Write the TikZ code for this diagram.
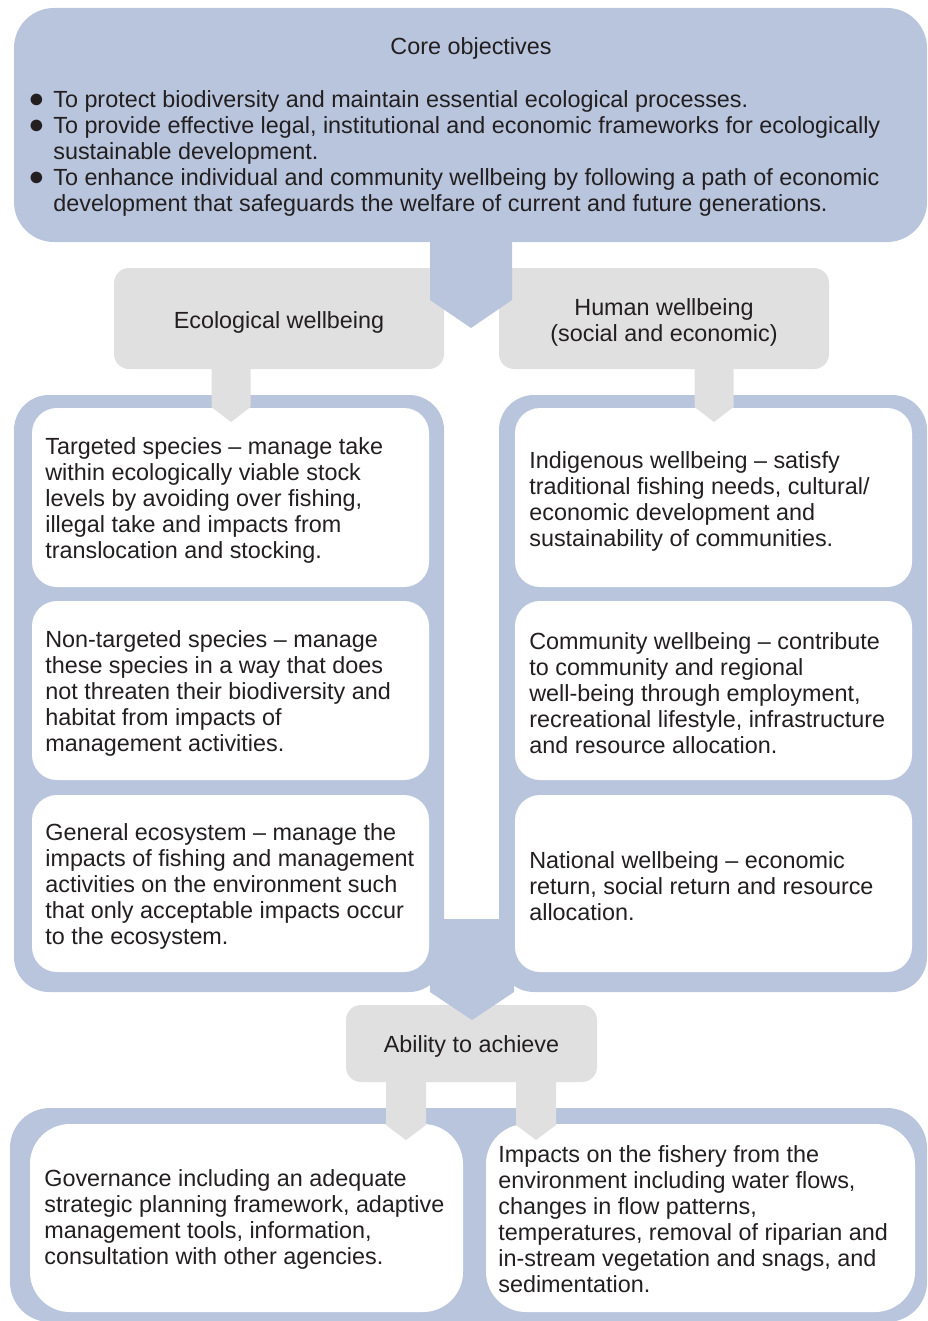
\documentclass[tikz,border=0pt]{standalone}
\usepackage{fontspec}
\setmainfont{Liberation Sans}
\usepackage{tikz}
\usetikzlibrary{fit}
\usetikzlibrary{calc}
\definecolor{frameblue}{HTML}{B8C5DD}
\definecolor{headgrey}{HTML}{E0E0E0}
\definecolor{ink}{HTML}{231F20}
\newcommand\bodyfont{\fontsize{13.3pt}{14.8pt}\selectfont}
\newcommand\dotmark{\scalebox{1.15}{●}}
% block arrow: colour, half width, head length, foot, tip
\newcommand\blockarrow[5]{\fill[#1] ($(#4)+(-#2,-4)$) -- ($(#5)+(-#2,-#3)$) -- (#5) -- ($(#5)+(#2,-#3)$) -- ($(#4)+(#2,-4)$) -- cycle;}

\begin{document}
\begin{tikzpicture}[x=0.02cm, y=-0.02cm,
  corebox/.style={fill=frameblue, rounded corners=0.8cm, inner sep=0pt},
  framebox/.style={fill=frameblue, rounded corners=0.7cm, inner sep=0pt},
  whitebox/.style={fill=white, rounded corners=0.5cm, inner sep=0pt},
  lowbox/.style={fill=white, rounded corners=0.8cm, inner sep=0pt},
  greybox/.style={fill=headgrey, rounded corners=0.3cm, inner sep=0pt},
  bodytext/.style={anchor=west, align=left, inner sep=0pt, text=ink, font=\bodyfont},
  headtext/.style={align=center, inner sep=0pt, text=ink, font=\bodyfont}]
\useasboundingbox (0,0) rectangle (927,1321);
\clip (0,0) rectangle (927,1321);

% core objectives
\node[corebox, fit={(14,8) (927,242)}] (core) {};
\node[greybox, fit={(114,268) (444,369)}] (eco) {};
\node[greybox, fit={(499,268) (829,369)}] (human) {};
\coordinate (coretip) at (471,328);
\blockarrow{frameblue}{41}{28}{coretip |- core.south}{coretip}

% the two wellbeing frames
\node[framebox, fit={(14,395) (444,992)}] (ecoframe) {};
\node[framebox, fit={(499,395) (927,992)}] (humanframe) {};
\node[greybox, fit={(346,1005) (597,1082)}] (ability) {};
\coordinate (bridge) at (472,923);
\coordinate (bridgetip) at (472,1020);
\blockarrow{frameblue}{42}{28}{bridge}{bridgetip}

\node[whitebox, fit={(32,408) (429,587)}] (target) {};
\node[whitebox, fit={(32,601) (429,780)}] (nontarget) {};
\node[whitebox, fit={(32,795) (429,972)}] (ecosystem) {};
\node[whitebox, fit={(515,408) (912,587)}] (indigenous) {};
\node[whitebox, fit={(515,601) (912,780)}] (community) {};
\node[whitebox, fit={(515,795) (912,972)}] (national) {};

\coordinate (ecotip) at (231,422);
\coordinate (humantip) at (714,422);
\blockarrow{headgrey}{19.5}{15}{ecotip |- eco.south}{ecotip}
\blockarrow{headgrey}{19.5}{15}{humantip |- human.south}{humantip}

% ability to achieve
\node[framebox, rounded corners=0.8cm, fit={(10,1108) (927,1322)}] (lowframe) {};
\node[lowbox, fit={(30,1124) (463,1312)}] (governance) {};
\node[lowbox, fit={(486,1124) (915,1312)}] (impacts) {};
\coordinate (govtip) at (406,1140);
\coordinate (imptip) at (536,1140);
\blockarrow{headgrey}{20}{15}{govtip |- ability.south}{govtip}
\blockarrow{headgrey}{20}{15}{imptip |- ability.south}{imptip}

% texts
\node[headtext] at (471,48) {Core objectives};
\node[bodytext] at (28,154) {\begin{tabular}{@{}p{25\dimexpr0.02cm\relax}@{}l@{}}
\dotmark&To protect biodiversity and maintain essential ecological processes.\\
\dotmark&To provide effective legal, institutional and economic frameworks for ecologically\\
&sustainable development.\\
\dotmark&To enhance individual and community wellbeing by following a path of economic\\
&development that safeguards the welfare of current and future generations.
\end{tabular}};
\node[headtext] at ([yshift=-0.08cm]eco.center) {Ecological wellbeing};
\node[headtext] at ([yshift=-0.08cm]human.center) {Human wellbeing\\(social and economic)};
\node[headtext] at ([yshift=-0.06cm]ability.center) {Ability to achieve};

\node[bodytext] at (45,500) {Targeted species -- manage take\\within ecologically viable stock\\levels by avoiding over fishing,\\illegal take and impacts from\\translocation and stocking.};
\node[bodytext] at (45,693) {Non-targeted species -- manage\\these species in a way that does\\not threaten their biodiversity and\\habitat from impacts of\\management activities.};
\node[bodytext] at (45,886) {General ecosystem -- manage the\\impacts of fishing and management\\activities on the environment such\\that only acceptable impacts occur\\to the ecosystem.};
\node[bodytext] at (529,501) {Indigenous wellbeing -- satisfy\\traditional fishing needs, cultural/\\economic development and\\sustainability of communities.};
\node[bodytext] at (529,693) {Community wellbeing -- contribute\\to community and regional\\well-being through employment,\\recreational lifestyle, infrastructure\\and resource allocation.};
\node[bodytext] at (529,886) {National wellbeing -- economic\\return, social return and resource\\allocation.};
\node[bodytext] at (44,1219) {Governance including an adequate\\strategic planning framework, adaptive\\management tools, information,\\consultation with other agencies.};
\node[bodytext] at (498,1219) {Impacts on the fishery from the\\environment including water flows,\\changes in flow patterns,\\temperatures, removal of riparian and\\in-stream vegetation and snags, and\\sedimentation.};
\end{tikzpicture}
\end{document}
